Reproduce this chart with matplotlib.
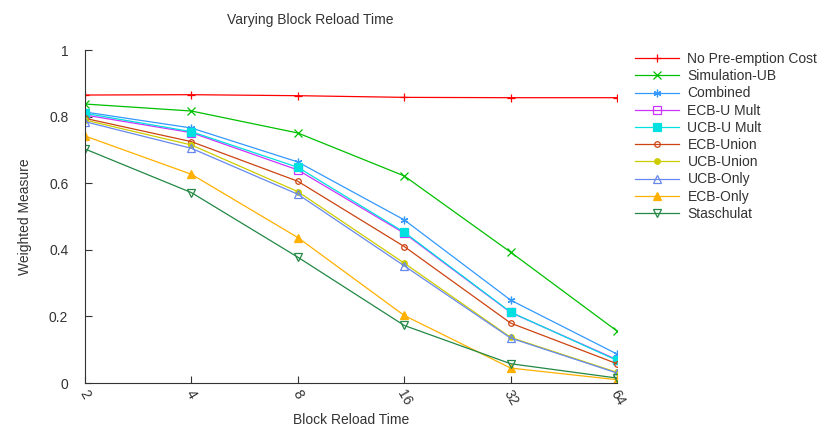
import numpy as np
import matplotlib.pyplot as plt

plt.rcParams['font.family'] = ['Liberation Sans', 'DejaVu Sans']

reload_times = ['2', '4', '8', '16', '32', '64']

no_preemption = [0.865, 0.866, 0.863, 0.858, 0.857, 0.857]
simulation_ub = [0.838, 0.817, 0.751, 0.622, 0.393, 0.156]
combined = [0.814, 0.766, 0.664, 0.490, 0.249, 0.087]
ecb_u_mult = [0.805, 0.752, 0.640, 0.450, 0.212, 0.070]
ucb_u_mult = [0.810, 0.755, 0.648, 0.453, 0.213, 0.068]
ecb_union = [0.795, 0.725, 0.606, 0.410, 0.180, 0.058]
ucb_union = [0.790, 0.715, 0.575, 0.360, 0.137, 0.032]
ucb_only = [0.785, 0.705, 0.567, 0.352, 0.135, 0.030]
ecb_only = [0.742, 0.627, 0.437, 0.203, 0.045, 0.010]
staschulat = [0.703, 0.572, 0.378, 0.173, 0.058, 0.015]

series = [
    ("No Pre-emption Cost", no_preemption, '#ff0000', '+', 'none'),
    ("Simulation-UB", simulation_ub, '#00c000', 'x', 'none'),
    ("Combined", combined, '#3399ff', (6, 2, 0), 'none'),
    ("ECB-U Mult", ecb_u_mult, '#cc33ff', 's', 'none'),
    ("UCB-U Mult", ucb_u_mult, '#00e0e0', 's', 'full'),
    ("ECB-Union", ecb_union, '#cc4411', 'o', 'none'),
    ("UCB-Union", ucb_union, '#cccc00', 'o', 'full'),
    ("UCB-Only", ucb_only, '#6688ee', '^', 'none'),
    ("ECB-Only", ecb_only, '#ffb000', '^', 'full'),
    ("Staschulat", staschulat, '#228844', 'v', 'none'),
]

fig = plt.figure(figsize=(8.25, 4.28), dpi=100)
ax = fig.add_axes([0.103, 0.105, 0.645, 0.778])

x = np.arange(len(reload_times))
for name, vals, col, mk, fill in series:
    sz = 4 if mk == 'o' else 5.5
    ax.plot(x, vals, color=col, lw=0.9, marker=mk, ms=sz, mew=0.9,
            fillstyle=fill, label=name)

ax.set_xlim(0, len(reload_times) - 1)
ax.set_ylim(0, 1)
ax.set_xticks(x)
ax.set_xticklabels(reload_times, rotation=-60, ha='center')
ax.set_yticks([0, 0.2, 0.4, 0.6, 0.8, 1])
ax.set_yticklabels(['0', '0.2', '0.4', '0.6', '0.8', '1'])
ax.tick_params(direction='in', length=5, colors='#333333', labelsize=10)
ax.tick_params(axis='y', pad=12)
ax.tick_params(axis='x', pad=3)
ax.spines['top'].set_visible(False)
ax.spines['right'].set_visible(False)
for s in ['left', 'bottom']:
    ax.spines[s].set_color('#333333')

ax.set_xlabel("Block Reload Time", fontsize=10, color='#333333', labelpad=4)
ax.set_ylabel("Weighted Measure", fontsize=10, color='#333333', labelpad=12)
fig.text(0.376, 0.945, "Varying Block Reload Time", ha='center', fontsize=10, color='#333333')

ax.legend(loc='upper left', bbox_to_anchor=(1.02, 1.015), frameon=False, fontsize=10,
          handlelength=3.2, labelspacing=0.23, handletextpad=0.6,
          labelcolor='#333333', borderaxespad=0.1)

fig.savefig('out.png', dpi=100)
